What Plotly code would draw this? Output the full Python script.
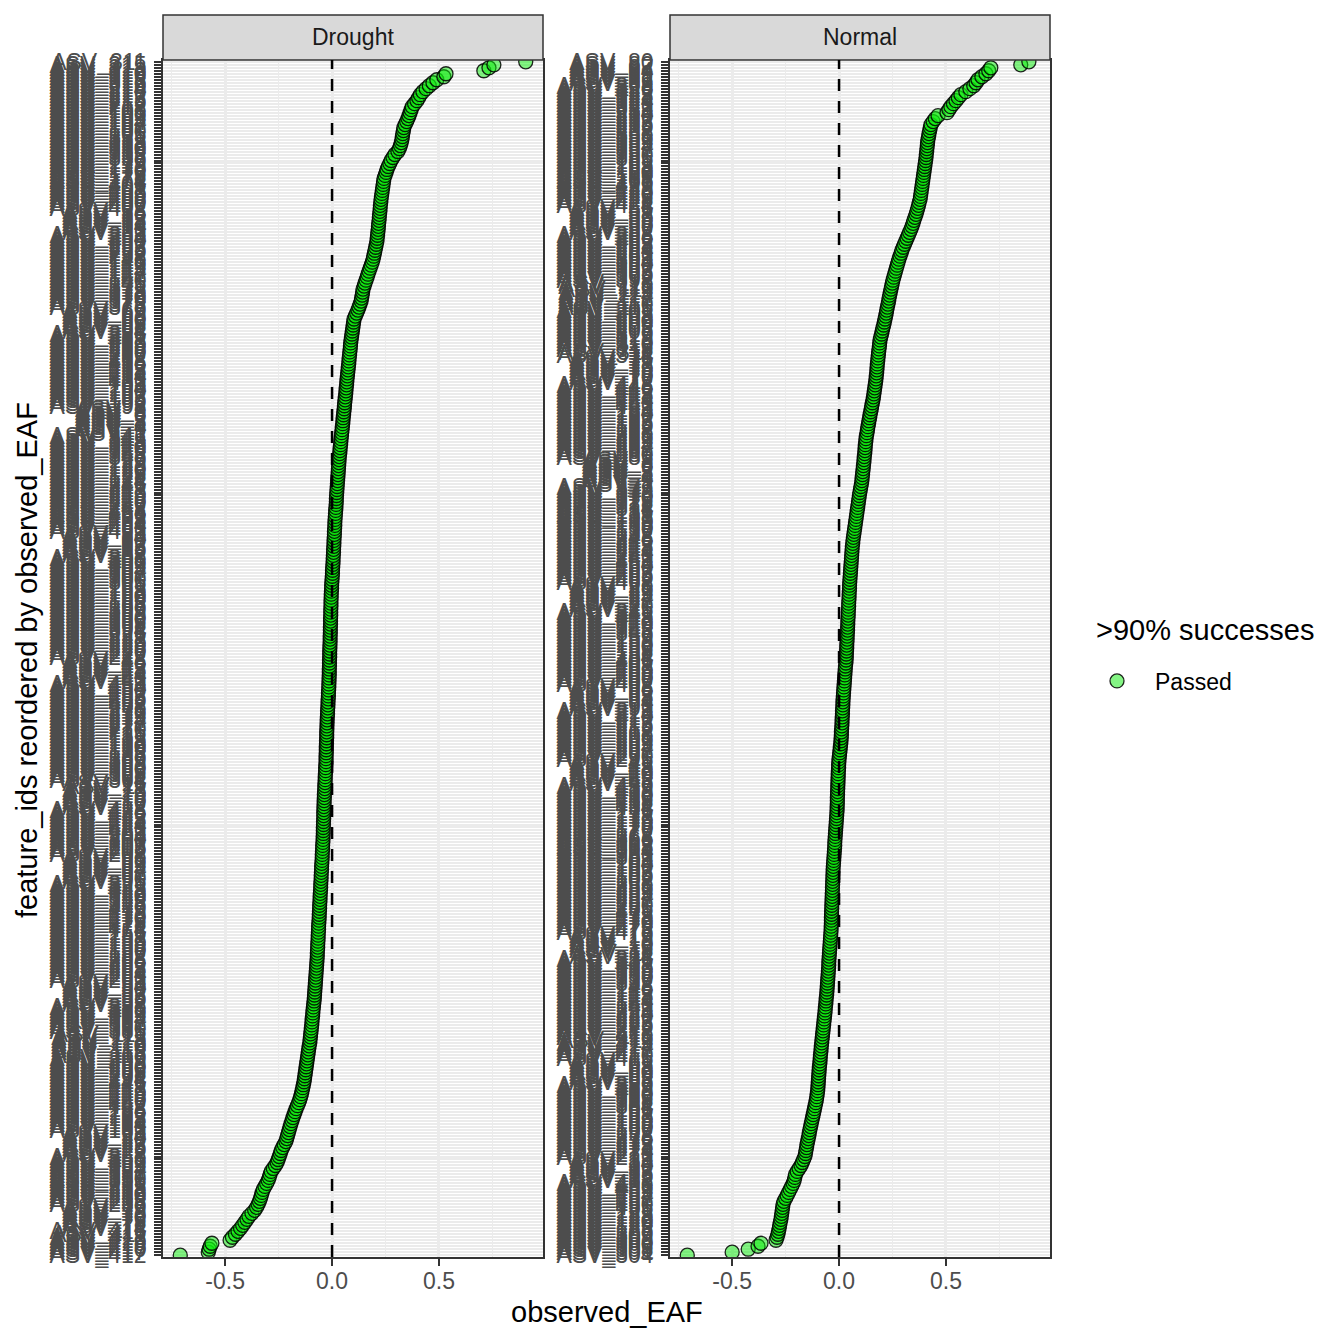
import plotly.graph_objects as go

FONT = "Liberation Sans, Arial, sans-serif"

# facet names
facets = ["Drought", "Normal"]

# ASV ids, ordered from lowest to highest observed_EAF (bottom -> top)
drought_ids = [
    412, 417, 410, 415, 419, 413, 418, 411, 416,
    74, 71, 78, 76, 70, 73, 79, 77,
    236, 233, 239, 230, 232, 238, 235, 231,
    355, 350, 357, 352, 354, 359, 351, 356, 353,
    28, 22, 25, 23, 27, 20, 24, 29,
    181, 189, 184, 187, 185, 182, 186, 188,
    442, 447, 440, 445, 449, 443, 448, 441, 446,
    294, 291, 298, 296, 290, 293, 299, 297,
    116, 113, 119, 110, 112, 118, 115, 111,
    385, 380, 387, 382, 384, 389, 381, 386, 383,
    58, 52, 55, 53, 57, 50, 54, 59,
    261, 269, 264, 267, 265, 262, 266, 268,
    152, 157, 150, 155, 159, 153, 158, 151, 156,
    474, 471, 478, 476, 470, 473, 479, 477,
    326, 323, 329, 320, 322, 328, 325, 321,
    95, 90, 97, 92, 94, 99, 91, 96, 93,
    208, 202, 205, 203, 207, 200, 204, 209,
    421, 429, 424, 427, 425, 422, 426, 428,
    12, 17, 10, 15, 19, 13, 18, 11, 16,
    364, 361, 368, 366, 360, 363, 369, 367,
    136, 133, 139, 130, 132, 138, 135, 131,
    275, 270, 277, 272, 274, 279, 271, 276, 273,
    458, 452, 455, 453, 457, 450, 454, 459,
    41, 49, 44, 47, 45, 42, 46, 48,
    222, 227, 220, 225, 229, 223, 228, 221, 226,
    394, 391, 398, 396, 390, 393, 399, 397,
    166, 163, 169, 160, 162, 168, 165, 161,
    305, 300, 307, 302, 304, 309, 301, 306, 303,
    88, 82, 85, 83, 87, 80, 84, 89,
    461, 469, 464, 467, 465, 462, 466, 468,
    242, 247, 240, 245, 249, 243, 248, 241, 246,
    124, 121, 128, 126, 120, 123, 129, 127,
    346, 343, 349, 340, 342, 348, 345, 341,
    1, 9, 4, 7, 5, 2, 6, 8, 3,
    198, 192, 195, 193, 197, 190, 194, 199,
    431, 439, 434, 437, 435, 432, 436, 438,
    282, 287, 280, 285, 289, 283, 288, 281, 286,
    64, 61, 68, 66, 60, 63, 69, 67,
    376, 373, 379, 370, 372, 378, 375, 371,
    145, 140, 147, 142, 144, 149, 141, 146, 143,
    258, 252, 255, 253, 257, 250, 254, 259,
    31, 39, 34, 37, 35, 32, 36, 38,
    402, 407, 400, 405, 409, 403, 408, 401, 406,
    174, 171, 178, 176, 170, 173, 179, 177,
    336, 333, 339, 330, 332, 338, 335, 331,
    105, 100, 107, 102, 104, 109, 101, 106, 103,
    218, 212, 215, 213, 217, 210, 214, 219,
    316, 313, 319, 310, 312, 318, 315, 311,
]

drought_eaf = [
    -0.710, -0.579, -0.575, -0.570, -0.562, -0.477, -0.466, -0.452, -0.440, -0.428,
    -0.418, -0.408, -0.398, -0.389, -0.375, -0.362, -0.353, -0.346, -0.340, -0.335,
    -0.331, -0.327, -0.322, -0.314, -0.306, -0.299, -0.294, -0.290, -0.285, -0.275,
    -0.265, -0.257, -0.252, -0.247, -0.242, -0.238, -0.231, -0.224, -0.216, -0.212,
    -0.208, -0.204, -0.200, -0.196, -0.192, -0.187, -0.183, -0.178, -0.173, -0.168,
    -0.162, -0.156, -0.151, -0.147, -0.143, -0.140, -0.137, -0.134, -0.131, -0.129,
    -0.127, -0.125, -0.123, -0.121, -0.119, -0.117, -0.115, -0.113, -0.111, -0.109,
    -0.107, -0.104, -0.103, -0.101, -0.100, -0.098, -0.097, -0.095, -0.094, -0.093,
    -0.091, -0.090, -0.089, -0.087, -0.086, -0.084, -0.083, -0.082, -0.081, -0.080,
    -0.079, -0.078, -0.077, -0.076, -0.075, -0.074, -0.073, -0.072, -0.071, -0.070,
    -0.069, -0.069, -0.068, -0.067, -0.067, -0.066, -0.065, -0.065, -0.064, -0.063,
    -0.063, -0.062, -0.061, -0.060, -0.060, -0.059, -0.058, -0.058, -0.057, -0.056,
    -0.056, -0.055, -0.054, -0.053, -0.053, -0.052, -0.051, -0.051, -0.050, -0.049,
    -0.049, -0.048, -0.047, -0.046, -0.046, -0.045, -0.044, -0.044, -0.043, -0.042,
    -0.042, -0.041, -0.041, -0.041, -0.040, -0.040, -0.039, -0.039, -0.039, -0.038,
    -0.038, -0.037, -0.037, -0.036, -0.036, -0.035, -0.034, -0.034, -0.033, -0.032,
    -0.032, -0.031, -0.030, -0.030, -0.029, -0.028, -0.028, -0.028, -0.027, -0.027,
    -0.027, -0.026, -0.026, -0.025, -0.025, -0.025, -0.024, -0.024, -0.023, -0.023,
    -0.022, -0.021, -0.021, -0.020, -0.019, -0.019, -0.018, -0.017, -0.017, -0.016,
    -0.015, -0.015, -0.014, -0.014, -0.013, -0.013, -0.013, -0.012, -0.012, -0.012,
    -0.011, -0.011, -0.011, -0.010, -0.010, -0.009, -0.009, -0.009, -0.008, -0.008,
    -0.008, -0.007, -0.007, -0.007, -0.006, -0.006, -0.006, -0.005, -0.005, -0.005,
    -0.004, -0.004, -0.003, -0.002, -0.002, -0.001, 0.000, 0.001, 0.002, 0.002,
    0.003, 0.004, 0.005, 0.005, 0.006, 0.007, 0.007, 0.008, 0.009, 0.009,
    0.010, 0.011, 0.011, 0.012, 0.013, 0.013, 0.014, 0.015, 0.016, 0.017,
    0.018, 0.019, 0.020, 0.020, 0.021, 0.022, 0.023, 0.024, 0.025, 0.026,
    0.027, 0.028, 0.029, 0.030, 0.031, 0.032, 0.033, 0.034, 0.036, 0.037,
    0.038, 0.040, 0.041, 0.042, 0.044, 0.045, 0.047, 0.048, 0.050, 0.051,
    0.052, 0.054, 0.055, 0.057, 0.058, 0.059, 0.061, 0.062, 0.064, 0.065,
    0.066, 0.068, 0.069, 0.070, 0.072, 0.073, 0.075, 0.076, 0.078, 0.079,
    0.080, 0.082, 0.083, 0.085, 0.086, 0.087, 0.089, 0.091, 0.093, 0.095,
    0.097, 0.099, 0.101, 0.103, 0.109, 0.115, 0.121, 0.126, 0.131, 0.136,
    0.138, 0.141, 0.143, 0.145, 0.150, 0.154, 0.159, 0.164, 0.168, 0.173,
    0.178, 0.183, 0.188, 0.192, 0.195, 0.198, 0.201, 0.204, 0.207, 0.210,
    0.211, 0.213, 0.214, 0.216, 0.217, 0.218, 0.220, 0.221, 0.222, 0.224,
    0.225, 0.226, 0.228, 0.229, 0.231, 0.233, 0.235, 0.237, 0.239, 0.241,
    0.243, 0.248, 0.253, 0.257, 0.263, 0.270, 0.276, 0.285, 0.294, 0.308,
    0.315, 0.320, 0.324, 0.327, 0.329, 0.331, 0.334, 0.336, 0.342, 0.349,
    0.355, 0.360, 0.365, 0.370, 0.375, 0.386, 0.397, 0.405, 0.413, 0.425,
    0.440, 0.455, 0.472, 0.490, 0.523, 0.533, 0.710, 0.734, 0.757, 0.906,
]

normal_ids = [
    304, 301, 308, 306, 300, 303, 309, 307,
    126, 123, 129, 120, 122, 128, 125, 121,
    455, 450, 457, 452, 454, 459, 451, 456, 453,
    38, 32, 35, 33, 37, 30, 34, 39,
    271, 279, 274, 277, 275, 272, 276, 278,
    192, 197, 190, 195, 199, 193, 198, 191, 196,
    384, 381, 388, 386, 380, 383, 389, 387,
    66, 63, 69, 60, 62, 68, 65, 61,
    415, 410, 417, 412, 414, 419, 411, 416, 413,
    228, 222, 225, 223, 227, 220, 224, 229,
    141, 149, 144, 147, 145, 142, 146, 148,
    332, 337, 330, 335, 339, 333, 338, 331, 336,
    14, 11, 18, 16, 10, 13, 19, 17,
    476, 473, 479, 470, 472, 478, 475, 471,
    255, 250, 257, 252, 254, 259, 251, 256, 253,
    108, 102, 105, 103, 107, 100, 104, 109,
    361, 369, 364, 367, 365, 362, 366, 368,
    172, 177, 170, 175, 179, 173, 178, 171, 176,
    434, 431, 438, 436, 430, 433, 439, 437,
    46, 43, 49, 40, 42, 48, 45, 41,
    295, 290, 297, 292, 294, 299, 291, 296, 293,
    218, 212, 215, 213, 217, 210, 214, 219,
    91, 99, 94, 97, 95, 92, 96, 98,
    402, 407, 400, 405, 409, 403, 408, 401, 406,
    154, 151, 158, 156, 150, 153, 159, 157,
    346, 343, 349, 340, 342, 348, 345, 341,
    25, 20, 27, 22, 24, 29, 21, 26, 23,
    468, 462, 465, 463, 467, 460, 464, 469,
    241, 249, 244, 247, 245, 242, 246, 248,
    132, 137, 130, 135, 139, 133, 138, 131, 136,
    374, 371, 378, 376, 370, 373, 379, 377,
    1, 9, 4, 7, 5, 2, 6, 8, 3,
    285, 280, 287, 282, 284, 289, 281, 286, 283,
    188, 182, 185, 183, 187, 180, 184, 189,
    441, 449, 444, 447, 445, 442, 446, 448,
    72, 77, 70, 75, 79, 73, 78, 71, 76,
    314, 311, 318, 316, 310, 313, 319, 317,
    206, 203, 209, 200, 202, 208, 205, 201,
    115, 110, 117, 112, 114, 119, 111, 116, 113,
    398, 392, 395, 393, 397, 390, 394, 399,
    261, 269, 264, 267, 265, 262, 266, 268,
    52, 57, 50, 55, 59, 53, 58, 51, 56,
    424, 421, 428, 426, 420, 423, 429, 427,
    166, 163, 169, 160, 162, 168, 165, 161,
    355, 350, 357, 352, 354, 359, 351, 356, 353,
    238, 232, 235, 233, 237, 230, 234, 239,
    321, 329, 324, 327, 325, 322, 326, 328,
    83, 86, 81, 89, 84, 87, 82, 80,
]

normal_eaf = [
    -0.710, -0.500, -0.425, -0.379, -0.365, -0.295, -0.290, -0.286, -0.283, -0.280,
    -0.278, -0.275, -0.272, -0.270, -0.268, -0.266, -0.264, -0.262, -0.258, -0.250,
    -0.243, -0.236, -0.229, -0.222, -0.215, -0.210, -0.207, -0.204, -0.196, -0.187,
    -0.178, -0.172, -0.166, -0.160, -0.157, -0.155, -0.152, -0.150, -0.147, -0.144,
    -0.141, -0.139, -0.136, -0.133, -0.130, -0.127, -0.124, -0.121, -0.118, -0.115,
    -0.112, -0.109, -0.106, -0.104, -0.102, -0.100, -0.099, -0.098, -0.097, -0.096,
    -0.095, -0.094, -0.093, -0.092, -0.090, -0.089, -0.088, -0.087, -0.085, -0.084,
    -0.083, -0.081, -0.080, -0.078, -0.077, -0.075, -0.074, -0.072, -0.071, -0.069,
    -0.068, -0.066, -0.065, -0.064, -0.062, -0.061, -0.060, -0.058, -0.057, -0.056,
    -0.055, -0.054, -0.053, -0.052, -0.051, -0.050, -0.049, -0.048, -0.048, -0.047,
    -0.046, -0.045, -0.044, -0.043, -0.042, -0.041, -0.040, -0.039, -0.038, -0.037,
    -0.037, -0.036, -0.036, -0.036, -0.035, -0.035, -0.034, -0.034, -0.033, -0.033,
    -0.032, -0.032, -0.031, -0.031, -0.030, -0.030, -0.029, -0.029, -0.028, -0.028,
    -0.027, -0.026, -0.025, -0.024, -0.023, -0.022, -0.021, -0.020, -0.020, -0.019,
    -0.018, -0.017, -0.016, -0.015, -0.014, -0.013, -0.012, -0.011, -0.010, -0.009,
    -0.009, -0.008, -0.008, -0.008, -0.007, -0.007, -0.006, -0.006, -0.005, -0.005,
    -0.004, -0.004, -0.003, -0.002, -0.002, -0.001, 0.000, 0.002, 0.003, 0.005,
    0.006, 0.008, 0.009, 0.010, 0.011, 0.011, 0.012, 0.013, 0.014, 0.014,
    0.015, 0.016, 0.016, 0.017, 0.018, 0.018, 0.019, 0.020, 0.021, 0.022,
    0.023, 0.024, 0.025, 0.026, 0.027, 0.028, 0.029, 0.030, 0.032, 0.033,
    0.034, 0.034, 0.035, 0.036, 0.036, 0.037, 0.038, 0.038, 0.039, 0.040,
    0.040, 0.041, 0.041, 0.042, 0.043, 0.043, 0.044, 0.045, 0.045, 0.046,
    0.047, 0.047, 0.048, 0.049, 0.049, 0.050, 0.051, 0.052, 0.053, 0.054,
    0.055, 0.056, 0.057, 0.058, 0.059, 0.060, 0.061, 0.062, 0.064, 0.065,
    0.067, 0.069, 0.071, 0.073, 0.075, 0.077, 0.079, 0.081, 0.083, 0.085,
    0.087, 0.089, 0.091, 0.093, 0.095, 0.097, 0.100, 0.102, 0.105, 0.107,
    0.108, 0.110, 0.111, 0.113, 0.114, 0.116, 0.117, 0.118, 0.120, 0.121,
    0.122, 0.123, 0.125, 0.126, 0.128, 0.131, 0.133, 0.135, 0.138, 0.140,
    0.143, 0.145, 0.148, 0.151, 0.153, 0.156, 0.159, 0.161, 0.163, 0.165,
    0.167, 0.169, 0.171, 0.173, 0.174, 0.176, 0.177, 0.178, 0.179, 0.181,
    0.182, 0.184, 0.185, 0.187, 0.189, 0.190, 0.192, 0.195, 0.199, 0.202,
    0.205, 0.209, 0.212, 0.215, 0.218, 0.221, 0.223, 0.226, 0.229, 0.232,
    0.234, 0.237, 0.240, 0.243, 0.246, 0.249, 0.252, 0.256, 0.260, 0.264,
    0.268, 0.272, 0.276, 0.280, 0.285, 0.290, 0.294, 0.300, 0.306, 0.312,
    0.318, 0.324, 0.330, 0.336, 0.341, 0.346, 0.350, 0.355, 0.360, 0.364,
    0.368, 0.372, 0.375, 0.379, 0.381, 0.383, 0.385, 0.387, 0.389, 0.391,
    0.393, 0.395, 0.397, 0.399, 0.401, 0.403, 0.405, 0.407, 0.408, 0.410,
    0.411, 0.413, 0.414, 0.416, 0.419, 0.421, 0.424, 0.427, 0.430, 0.440,
    0.450, 0.463, 0.505, 0.514, 0.523, 0.535, 0.547, 0.558, 0.570, 0.593,
    0.612, 0.630, 0.641, 0.650, 0.668, 0.687, 0.700, 0.710, 0.850, 0.888,
]

x_ticks = [-0.5, 0.0, 0.5]
x_tick_text = ["-0.5", "0.0", "0.5"]
x_minor = [-0.75, -0.25, 0.25, 0.75]

# page is drawn with the browser's 8px body margin, so size the figure to fit
OFF = 8
FW = 1344 - OFF


def px(x):
    return (x - OFF) / FW


def py(y):
    return 1 - (y - OFF) / FW


# panel positions in page pixels
panel_x = [(163, 543), (670, 1050)]
panel_top, panel_bottom, strip_top = 60, 1257, 15

SMALL = 23
BIG = 29

panels = [
    ([f"ASV_{n}" for n in drought_ids], drought_eaf),
    ([f"ASV_{n}" for n in normal_ids], normal_eaf),
]

all_vals = drought_eaf + normal_eaf
lo, hi = min(all_vals), max(all_vals)
pad = 0.05 * (hi - lo)
x_range = [lo - pad, hi + pad]

fig = go.Figure()

y_dom = [py(panel_bottom), py(panel_top)]

for i, (labels, vals) in enumerate(panels):
    sfx = "" if i == 0 else str(i + 1)
    fig.add_trace(go.Scatter(
        x=vals, y=labels, mode="markers",
        xaxis="x" + sfx, yaxis="y" + sfx,
        name="Passed", showlegend=(i == 0),
        marker=dict(size=14, color="rgba(10,235,10,0.5)",
                    line=dict(color="rgba(0,0,0,0.85)", width=1.3)),
        hovertemplate="%{y}: %{x}<extra></extra>",
    ))

    x0, x1 = panel_x[i]
    fig.layout["xaxis" + sfx] = dict(
        domain=[px(x0), px(x1)], anchor="y" + sfx, range=x_range,
        tickmode="array", tickvals=x_ticks, ticktext=x_tick_text,
        showgrid=True, gridcolor="#EBEBEB", gridwidth=2.5,
        minor=dict(tickmode="array", tickvals=x_minor, showgrid=True,
                   gridcolor="#EBEBEB", gridwidth=1.2, ticks=""),
        zeroline=False, showline=True, mirror=True, linecolor="#333333", linewidth=1.5,
        ticks="outside", ticklen=7, tickwidth=2, tickcolor="#333333",
        tickfont=dict(size=SMALL, color="#4D4D4D", family=FONT),
        ticklabelstandoff=-4,
        automargin=False,
    )
    fig.layout["yaxis" + sfx] = dict(
        domain=y_dom, anchor="x" + sfx, type="category",
        categoryorder="array", categoryarray=labels,
        range=[-0.6, len(labels) - 0.4],
        tickmode="linear", tick0=0, dtick=1,
        showgrid=True, gridcolor="#EBEBEB", gridwidth=2,
        zeroline=False, showline=True, mirror=True, linecolor="#333333", linewidth=1.5,
        ticks="outside", ticklen=7, tickwidth=1.6, tickcolor="#333333",
        tickfont=dict(size=SMALL, color="#4D4D4D", family=FONT),
        ticklabelstandoff=3,
        automargin=False,
    )

    # strip
    fig.add_shape(type="rect", xref="paper", yref="paper",
                  x0=px(x0), x1=px(x1), y0=y_dom[1], y1=py(strip_top),
                  fillcolor="#D9D9D9", line=dict(color="#333333", width=1.5))
    fig.add_annotation(text=facets[i], xref="paper", yref="paper",
                       x=px((x0 + x1) / 2), y=py((strip_top + panel_top) / 2),
                       xanchor="center", yanchor="middle", showarrow=False,
                       font=dict(size=SMALL, color="#1A1A1A", family=FONT))

    # dashed reference line at zero
    fig.add_shape(type="line", xref="x" + sfx, yref="y" + sfx + " domain",
                  x0=0, x1=0, y0=0, y1=1, layer="above",
                  line=dict(color="black", width=2.5, dash="12px,10px"))

# axis titles
fig.add_annotation(text="observed_EAF", xref="paper", yref="paper",
                   x=px((panel_x[0][0] + panel_x[1][1]) / 2), y=py(1312),
                   xanchor="center", yanchor="middle", showarrow=False,
                   font=dict(size=BIG, color="black", family=FONT))
fig.add_annotation(text="feature_ids reordered by observed_EAF", xref="paper", yref="paper",
                   x=px(27), y=py(660), textangle=-90,
                   xanchor="center", yanchor="middle", showarrow=False,
                   font=dict(size=BIG, color="black", family=FONT))

# legend title
fig.add_annotation(text=">90% successes", xref="paper", yref="paper",
                   x=px(1094), y=py(630), xanchor="left", yanchor="middle",
                   showarrow=False, font=dict(size=BIG, color="black", family=FONT))

fig.update_layout(
    width=FW, height=FW,
    margin=dict(l=0, r=0, t=0, b=0),
    paper_bgcolor="white", plot_bgcolor="white",
    font=dict(family=FONT),
    legend=dict(
        font=dict(size=SMALL, color="black", family=FONT),
        x=px(1079), y=py(681), xanchor="left", yanchor="middle",
        itemwidth=66, bgcolor="rgba(0,0,0,0)",
    ),
)

fig.write_html("out.html")
